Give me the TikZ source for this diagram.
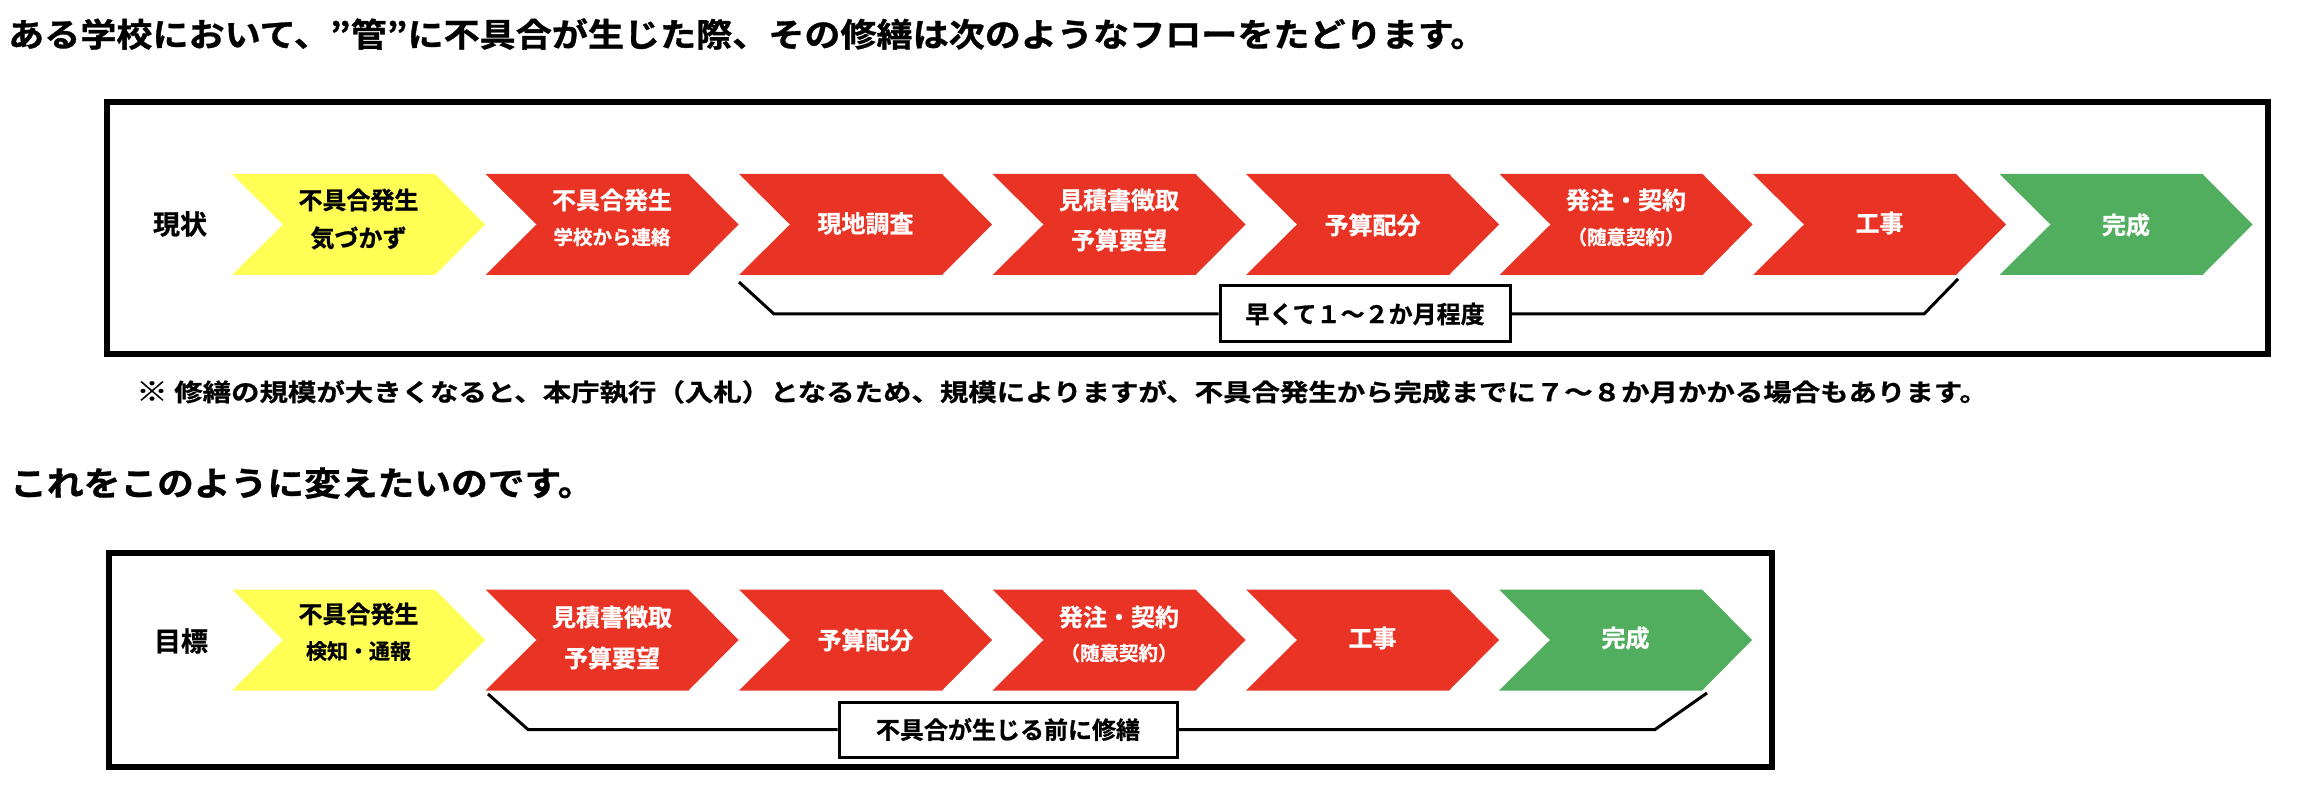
\documentclass[tikz,border=0pt]{standalone}
\usepackage{fontspec}
\newfontfamily\jp{Noto Sans CJK JP Bold}[FakeBold=0.8]
\newfontfamily\jpwide{Noto Sans CJK JP Bold}[FakeStretch=1.1, FakeBold=1]
\newfontfamily\jpnote{Noto Sans CJK JP Bold}[FakeStretch=1.17, FakeBold=0.8]
\definecolor{cyel}{HTML}{FFFF55}
\definecolor{cred}{HTML}{E93425}
\definecolor{cgrn}{HTML}{52AE5F}
\tikzset{
  frame/.style={draw=black, line width=6pt},
  bracket/.style={draw=black, line width=3pt, line join=miter},
  labelbox/.style={draw=black, fill=white, line width=3pt, inner sep=0pt,
    font=\jp\fontsize{24}{24}\selectfont},
  big/.style={font=\jp\fontsize{24}{24}\selectfont, inner sep=0pt},
  sub/.style={font=\jp\fontsize{19.5}{20}\selectfont, inner sep=0pt},
  paren/.style={font=\jp\fontsize{19.5}{20}\selectfont, inner sep=0pt},
  rowlabel/.style={font=\jp\fontsize{27}{27}\selectfont, inner sep=0pt},
}
% #1 name, #2 left x, #3 centre y, #4 colour
\newcommand\mychev[4]{%
  \fill[#4] (#2,#3-50.5) -- (#2+203,#3-50.5) -- (#2+253,#3) -- (#2+203,#3+50.5)
    -- (#2,#3+50.5) -- (#2+51,#3) -- cycle;
  \coordinate (#1) at (#2+126.5,#3);
}
\begin{document}
\begin{tikzpicture}[x=1pt,y=-1pt]
\useasboundingbox (0,0) rectangle (2300,794);

% titles
\node[anchor=west, inner sep=0pt, font=\jpwide\fontsize{32.8}{33}\selectfont] (title1) at (8,34)
  {ある学校において、”管”に不具合が生じた際、その修繕は次のようなフローをたどります。};
\node[anchor=west, inner sep=0pt, font=\jpnote\fontsize{24.3}{25}\selectfont] (note) at (136,392)
  {{\fontsize{27}{27}\selectfont ※}~修繕の規模が大きくなると、本庁執行（入札）となるため、規模によりますが、不具合発生から完成までに７～８か月かかる場合もあります。};
\node[anchor=west, inner sep=0pt, font=\jpwide\fontsize{33.4}{34}\selectfont] (title2) at (10,483)
  {これをこのように変えたいのです。};

% frames
\draw[frame] (107,102) rectangle (2268,354);
\draw[frame] (108.5,553) rectangle (1772,767);

% ---- row 1 : 現状
\node[rowlabel] (lab-now) at (180,224) {現状};
\mychev{a1}{232}{224.5}{cyel}
\mychev{a2}{485.5}{224.5}{cred}
\mychev{a3}{739}{224.5}{cred}
\mychev{a4}{992.5}{224.5}{cred}
\mychev{a5}{1246}{224.5}{cred}
\mychev{a6}{1499.5}{224.5}{cred}
\mychev{a7}{1753}{224.5}{cred}
\mychev{a8}{1999.5}{224.5}{cgrn}

\node[big] (a1t) at (358.5,200) {不具合発生};
\node[big] (a1s) at (358.5,238) {気づかず};
\node[big, white] (a2t) at (612,200) {不具合発生};
\node[sub, white] (a2s) at (612,237) {学校から連絡};
\node[big, white] (a3t) at (865.5,223.5) {現地調査};
\node[big, white] (a4t) at (1119,200) {見積書徴取};
\node[big, white] (a4s) at (1119,240) {予算要望};
\node[big, white] (a5t) at (1372.5,225) {予算配分};
\node[big, white] (a6t) at (1626,200) {発注・契約};
\node[paren, white] (a6s) at (1626,237) {（随意契約）};
\node[big, white] (a7t) at (1879.5,223) {工事};
\node[big, white] (a8t) at (2126,225) {完成};

\node[labelbox, minimum width=290pt, minimum height=56pt] (span1) at (1365,314) {早くて１～２か月程度};
\coordinate (b1s) at (739,282);
\coordinate (b1m) at (774,314);
\coordinate (b1n) at (1924,314);
\coordinate (b1e) at (1958,279);
\draw[bracket] (b1s) -- (b1m) -- (span1.west);
\draw[bracket] (span1.east) -- (b1n) -- (b1e);

% ---- row 2 : 目標
\node[rowlabel] (lab-goal) at (181,641) {目標};
\mychev{c1}{232}{640}{cyel}
\mychev{c2}{485.5}{640}{cred}
\mychev{c3}{739}{640}{cred}
\mychev{c4}{992.5}{640}{cred}
\mychev{c5}{1246}{640}{cred}
\mychev{c6}{1499}{640}{cgrn}

\node[big] (c1t) at (358.5,614) {不具合発生};
\node[font=\jp\fontsize{21}{21}\selectfont, inner sep=0pt] (c1s) at (358.5,651) {検知・通報};
\node[big, white] (c2t) at (612,617) {見積書徴取};
\node[big, white] (c2s) at (612,658) {予算要望};
\node[big, white] (c3t) at (865.5,640) {予算配分};
\node[big, white] (c4t) at (1119,617) {発注・契約};
\node[paren, white] (c4s) at (1119,653) {（随意契約）};
\node[big, white] (c5t) at (1372.5,638) {工事};
\node[big, white] (c6t) at (1625.5,638) {完成};

\node[labelbox, minimum width=338pt, minimum height=55pt] (span2) at (1008,729.5) {不具合が生じる前に修繕};
\coordinate (b2s) at (488,694);
\coordinate (b2m) at (528,729.5);
\coordinate (b2n) at (1655,729.5);
\coordinate (b2e) at (1707,693);
\draw[bracket] (b2s) -- (b2m) -- (span2.west);
\draw[bracket] (span2.east) -- (b2n) -- (b2e);
\end{tikzpicture}
\end{document}
